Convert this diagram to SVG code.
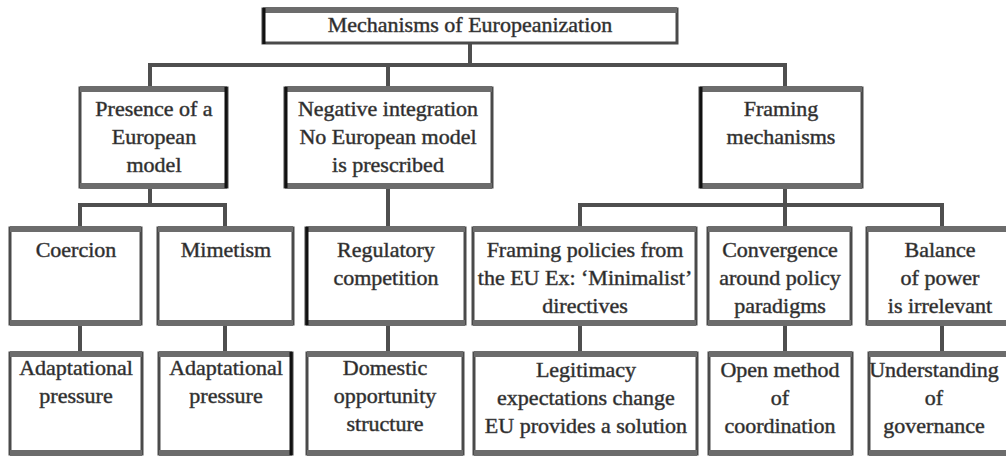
<svg xmlns="http://www.w3.org/2000/svg" width="1006" height="457" viewBox="0 0 1006 457">
<style>
.box{fill:#fff;stroke:#4a4a4a;stroke-width:3}
.band{fill:none;stroke:#6c6c6c;stroke-width:6}
.edge{fill:none;stroke:#111;stroke-width:3}
.t{font-family:"Liberation Serif","Times New Roman",serif;font-size:22px;fill:#262626;text-anchor:middle;stroke:#4a4a4a;stroke-width:0.5}
.c{fill:none;stroke:#4f4f4f;stroke-width:4}
</style>
<rect width="1006" height="457" fill="#fff"/>
<g id="connectors">
<path class="c" d="M470 43V65M150 65H785M150 63V87M388 65V87M785 63V87"/>
<path class="c" d="M150 188V205M80 205H225M80 203V227M225 203V227M388 188V227"/>
<path class="c" d="M785 188V205M580 205H942M580 203V227M785 205V227M942 203V227"/>
<path class="c" d="M80 325V352M225 325V352M388 325V352M580 325V352M785 325V352M942 325V352"/>
</g>
<g id="n-root">
<rect class="box" x="263" y="9" width="414" height="34"/>
<path class="band" d="M263 10H677"/>
<path class="edge" d="M264 8V44"/>
<text class="t" x="470" y="32">Mechanisms of Europeanization</text>
</g>
<g id="n-presence">
<rect class="box" x="80" y="88" width="147" height="99"/>
<path class="band" d="M80 89H227M80 186H227"/>
<path class="edge" d="M226 87V188"/>
<text class="t" x="154" y="116">Presence of a</text>
<text class="t" x="154" y="144">European</text>
<text class="t" x="154" y="172">model</text>
</g>
<g id="n-negative">
<rect class="box" x="285" y="88" width="207" height="99"/>
<path class="band" d="M285 89H492M285 186H492"/>
<path class="edge" d="M286 87V188"/>
<text class="t" x="388" y="116">Negative integration</text>
<text class="t" x="388" y="144">No European model</text>
<text class="t" x="388" y="172">is prescribed</text>
</g>
<g id="n-framing">
<rect class="box" x="700" y="88" width="162" height="99"/>
<path class="band" d="M700 89H862M700 186H862"/>
<path class="edge" d="M701 87V188"/>
<text class="t" x="781" y="116">Framing</text>
<text class="t" x="781" y="144">mechanisms</text>
</g>
<g id="n-coercion">
<rect class="box" x="10" y="228" width="131" height="96"/>
<path class="band" d="M10 229H141M10 323H141"/>
<text class="t" x="76" y="257">Coercion</text>
</g>
<g id="n-mimetism">
<rect class="box" x="158" y="228" width="135" height="96"/>
<path class="band" d="M158 229H293M158 323H293"/>
<text class="t" x="226" y="257">Mimetism</text>
</g>
<g id="n-regulatory">
<rect class="box" x="306" y="228" width="159" height="96"/>
<path class="band" d="M306 229H465M306 323H465"/>
<path class="edge" d="M307 227V325"/>
<text class="t" x="386" y="257">Regulatory</text>
<text class="t" x="386" y="285">competition</text>
</g>
<g id="n-policies">
<rect class="box" x="473" y="228" width="223" height="96"/>
<path class="band" d="M473 229H696M473 323H696"/>
<text class="t" x="585" y="257">Framing policies from</text>
<text class="t" x="585" y="285">the EU Ex: ‘Minimalist’</text>
<text class="t" x="585" y="313">directives</text>
</g>
<g id="n-convergence">
<rect class="box" x="708" y="228" width="143" height="96"/>
<path class="band" d="M708 229H851M708 323H851"/>
<text class="t" x="780" y="257">Convergence</text>
<text class="t" x="780" y="285">around policy</text>
<text class="t" x="780" y="313">paradigms</text>
</g>
<g id="n-balance">
<rect class="box" x="867" y="228" width="150" height="96"/>
<path class="band" d="M867 229H1017M867 323H1017"/>
<text class="t" x="940" y="257">Balance</text>
<text class="t" x="940" y="285">of power</text>
<text class="t" x="940" y="313">is irrelevant</text>
</g>
<g id="n-adapt1">
<rect class="box" x="10" y="353" width="132" height="101"/>
<path class="band" d="M10 354H142M10 453H142"/>
<text class="t" x="76" y="375">Adaptational</text>
<text class="t" x="76" y="403">pressure</text>
</g>
<g id="n-adapt2">
<rect class="box" x="159" y="353" width="133" height="101"/>
<path class="band" d="M159 354H292M159 453H292"/>
<path class="edge" d="M291 352V455"/>
<text class="t" x="226" y="375">Adaptational</text>
<text class="t" x="226" y="403">pressure</text>
</g>
<g id="n-domestic">
<rect class="box" x="307" y="353" width="156" height="101"/>
<path class="band" d="M307 354H463M307 453H463"/>
<text class="t" x="385" y="375">Domestic</text>
<text class="t" x="385" y="403">opportunity</text>
<text class="t" x="385" y="431">structure</text>
</g>
<g id="n-legitimacy">
<rect class="box" x="474" y="353" width="223" height="101"/>
<path class="band" d="M474 354H697M474 453H697"/>
<text class="t" x="586" y="377">Legitimacy</text>
<text class="t" x="586" y="405">expectations change</text>
<text class="t" x="586" y="433">EU provides a solution</text>
</g>
<g id="n-omc">
<rect class="box" x="709" y="353" width="143" height="101"/>
<path class="band" d="M709 354H852M709 453H852"/>
<text class="t" x="780" y="377">Open method</text>
<text class="t" x="780" y="405">of</text>
<text class="t" x="780" y="433">coordination</text>
</g>
<g id="n-understanding">
<rect class="box" x="869" y="353" width="150" height="101"/>
<path class="band" d="M869 354H1019M869 453H1019"/>
<text class="t" x="934" y="377">Understanding</text>
<text class="t" x="934" y="405">of</text>
<text class="t" x="934" y="433">governance</text>
</g>
</svg>
